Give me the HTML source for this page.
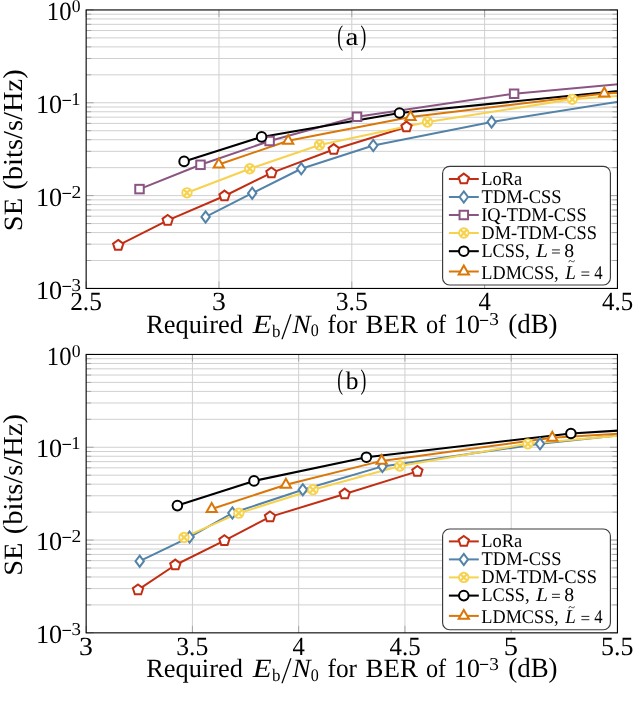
<!DOCTYPE html>
<html><head><meta charset="utf-8"><style>html,body{margin:0;padding:0;background:#fff;width:640px;height:714px;overflow:hidden}svg{display:block;will-change:transform}text{font-family:'Liberation Serif',serif;font-kerning:none;text-rendering:geometricPrecision;fill:#000}</style></head>
<body><svg width="640" height="714" viewBox="0 0 640 714">
<rect width="640" height="714" fill="#fff"/>
<defs><clipPath id="clip0"><rect x="86.15" y="9.95" width="531.3" height="278.5"/></clipPath></defs>
<path d="M86.15 260.5H617.45M86.15 244.16H617.45M86.15 232.56H617.45M86.15 223.56H617.45M86.15 216.21H617.45M86.15 210H617.45M86.15 204.61H617.45M86.15 199.86H617.45M86.15 195.62H617.45M86.15 167.67H617.45M86.15 151.32H617.45M86.15 139.73H617.45M86.15 130.73H617.45M86.15 123.38H617.45M86.15 117.16H617.45M86.15 111.78H617.45M86.15 107.03H617.45M86.15 102.78H617.45M86.15 74.84H617.45M86.15 58.49H617.45M86.15 46.89H617.45M86.15 37.9H617.45M86.15 30.54H617.45M86.15 24.33H617.45M86.15 18.95H617.45M86.15 14.2H617.45M218.98 9.95V288.45M351.8 9.95V288.45M484.62 9.95V288.45" stroke="#d0d0d0" stroke-width="1" fill="none"/>
<path d="M86.15 288.45h7.5M617.45 288.45h-7.5M86.15 260.5h5M617.45 260.5h-5M86.15 244.16h5M617.45 244.16h-5M86.15 232.56h5M617.45 232.56h-5M86.15 223.56h5M617.45 223.56h-5M86.15 216.21h5M617.45 216.21h-5M86.15 210h5M617.45 210h-5M86.15 204.61h5M617.45 204.61h-5M86.15 199.86h5M617.45 199.86h-5M86.15 195.62h7.5M617.45 195.62h-7.5M86.15 167.67h5M617.45 167.67h-5M86.15 151.32h5M617.45 151.32h-5M86.15 139.73h5M617.45 139.73h-5M86.15 130.73h5M617.45 130.73h-5M86.15 123.38h5M617.45 123.38h-5M86.15 117.16h5M617.45 117.16h-5M86.15 111.78h5M617.45 111.78h-5M86.15 107.03h5M617.45 107.03h-5M86.15 102.78h7.5M617.45 102.78h-7.5M86.15 74.84h5M617.45 74.84h-5M86.15 58.49h5M617.45 58.49h-5M86.15 46.89h5M617.45 46.89h-5M86.15 37.9h5M617.45 37.9h-5M86.15 30.54h5M617.45 30.54h-5M86.15 24.33h5M617.45 24.33h-5M86.15 18.95h5M617.45 18.95h-5M86.15 14.2h5M617.45 14.2h-5M86.15 9.95h7.5M617.45 9.95h-7.5M86.15 288.45v-7M86.15 9.95v7M218.98 288.45v-7M218.98 9.95v7M351.8 288.45v-7M351.8 9.95v7M484.62 288.45v-7M484.62 9.95v7M617.45 288.45v-7M617.45 9.95v7" stroke="#8a8a8a" stroke-width="0.65" fill="none"/>
<text transform="matrix(0.67 0 0 1.09 337.13 44.84)" font-size="26">(</text>
<text transform="matrix(1.12 0 0 0.97 345.62 44.5)" font-size="26">a</text>
<text transform="matrix(0.67 0 0 1.09 360.44 44.84)" font-size="26">)</text>
<g clip-path="url(#clip0)"><polyline points="118.2,245.3 167.7,220.4 224.5,196 271.4,172.9 333.75,149.5 406.5,127" fill="none" stroke="#c22e14" stroke-width="2.0" stroke-linejoin="round"/><polyline points="205.6,216.9 252.2,193.2 301.25,168.75 373.25,145.5 491.6,121.9 640,98.3" fill="none" stroke="#5383a8" stroke-width="2.0" stroke-linejoin="round"/><polyline points="139.5,189.1 200.5,164.8 269.6,141 357,116.75 514.1,93.75 640,82.3" fill="none" stroke="#8b5583" stroke-width="2.0" stroke-linejoin="round"/><polyline points="187,192.8 249.8,168.75 319.5,145 427.5,122 572.3,99.3 640,94.5" fill="none" stroke="#f6d24f" stroke-width="2.0" stroke-linejoin="round"/><polyline points="184.1,161.4 261.6,136.9 399.5,113 640,88.8" fill="none" stroke="#000000" stroke-width="2.05" stroke-linejoin="round"/><polyline points="218.8,164.5 288.2,140.8 410.5,117 604.3,93.5 640,91.8" fill="none" stroke="#da7708" stroke-width="2.0" stroke-linejoin="round"/><polygon points="118.2,239.9 123.34,243.63 121.37,249.67 115.03,249.67 113.06,243.63" fill="#fff" stroke="#c22e14" stroke-width="2.0"/><polygon points="167.7,215 172.84,218.73 170.87,224.77 164.53,224.77 162.56,218.73" fill="#fff" stroke="#c22e14" stroke-width="2.0"/><polygon points="224.5,190.6 229.64,194.33 227.67,200.37 221.33,200.37 219.36,194.33" fill="#fff" stroke="#c22e14" stroke-width="2.0"/><polygon points="271.4,167.5 276.54,171.23 274.57,177.27 268.23,177.27 266.26,171.23" fill="#fff" stroke="#c22e14" stroke-width="2.0"/><polygon points="333.75,144.1 338.89,147.83 336.92,153.87 330.58,153.87 328.61,147.83" fill="#fff" stroke="#c22e14" stroke-width="2.0"/><polygon points="406.5,121.6 411.64,125.33 409.67,131.37 403.33,131.37 401.36,125.33" fill="#fff" stroke="#c22e14" stroke-width="2.0"/><polygon points="205.6,211.3 209.8,216.9 205.6,222.5 201.4,216.9" fill="#fff" stroke="#5383a8" stroke-width="2.0"/><polygon points="252.2,187.6 256.4,193.2 252.2,198.8 248,193.2" fill="#fff" stroke="#5383a8" stroke-width="2.0"/><polygon points="301.25,163.15 305.45,168.75 301.25,174.35 297.05,168.75" fill="#fff" stroke="#5383a8" stroke-width="2.0"/><polygon points="373.25,139.9 377.45,145.5 373.25,151.1 369.05,145.5" fill="#fff" stroke="#5383a8" stroke-width="2.0"/><polygon points="491.6,116.3 495.8,121.9 491.6,127.5 487.4,121.9" fill="#fff" stroke="#5383a8" stroke-width="2.0"/><rect x="135.25" y="184.85" width="8.5" height="8.5" fill="#fff" stroke="#8b5583" stroke-width="2.0"/><rect x="196.25" y="160.55" width="8.5" height="8.5" fill="#fff" stroke="#8b5583" stroke-width="2.0"/><rect x="265.35" y="136.75" width="8.5" height="8.5" fill="#fff" stroke="#8b5583" stroke-width="2.0"/><rect x="352.75" y="112.5" width="8.5" height="8.5" fill="#fff" stroke="#8b5583" stroke-width="2.0"/><rect x="509.85" y="89.5" width="8.5" height="8.5" fill="#fff" stroke="#8b5583" stroke-width="2.0"/><circle cx="187" cy="192.8" r="4.7" fill="#fff" stroke="#f6d24f" stroke-width="1.9"/><path d="M183.68 189.48L190.32 196.12M183.68 196.12L190.32 189.48" stroke="#f6d24f" stroke-width="2.3"/><circle cx="249.8" cy="168.75" r="4.7" fill="#fff" stroke="#f6d24f" stroke-width="1.9"/><path d="M246.48 165.43L253.12 172.07M246.48 172.07L253.12 165.43" stroke="#f6d24f" stroke-width="2.3"/><circle cx="319.5" cy="145" r="4.7" fill="#fff" stroke="#f6d24f" stroke-width="1.9"/><path d="M316.18 141.68L322.82 148.32M316.18 148.32L322.82 141.68" stroke="#f6d24f" stroke-width="2.3"/><circle cx="427.5" cy="122" r="4.7" fill="#fff" stroke="#f6d24f" stroke-width="1.9"/><path d="M424.18 118.68L430.82 125.32M424.18 125.32L430.82 118.68" stroke="#f6d24f" stroke-width="2.3"/><circle cx="572.3" cy="99.3" r="4.7" fill="#fff" stroke="#f6d24f" stroke-width="1.9"/><path d="M568.98 95.98L575.62 102.62M568.98 102.62L575.62 95.98" stroke="#f6d24f" stroke-width="2.3"/><circle cx="184.1" cy="161.4" r="4.8" fill="#fff" stroke="#000000" stroke-width="2.0"/><circle cx="261.6" cy="136.9" r="4.8" fill="#fff" stroke="#000000" stroke-width="2.0"/><circle cx="399.5" cy="113" r="4.8" fill="#fff" stroke="#000000" stroke-width="2.0"/><polygon points="218.8,158.6 223.91,167.45 213.69,167.45" fill="#fff" stroke="#da7708" stroke-width="2.0"/><polygon points="288.2,134.9 293.31,143.75 283.09,143.75" fill="#fff" stroke="#da7708" stroke-width="2.0"/><polygon points="410.5,111.1 415.61,119.95 405.39,119.95" fill="#fff" stroke="#da7708" stroke-width="2.0"/><polygon points="604.3,87.6 609.41,96.45 599.19,96.45" fill="#fff" stroke="#da7708" stroke-width="2.0"/></g>
<rect x="86.15" y="9.95" width="531.3" height="278.5" fill="none" stroke="#000000" stroke-width="1.1"/>
<text transform="matrix(0.94 0 0 1 46.83 20.1)" font-size="26.2">10</text>
<text transform="matrix(0.97 0 0 1 71.73 12.05)" font-size="18.2">0</text>
<text transform="matrix(1 0 0 1 35.91 112.93)" font-size="26.2">10</text>
<text transform="matrix(1.02 0 0 1.25 61.38 107.83)" font-size="18.2">−</text>
<text transform="matrix(1.01 0 0 1 71.18 104.98)" font-size="18.2">1</text>
<text transform="matrix(1 0 0 1 35.91 205.77)" font-size="26.2">10</text>
<text transform="matrix(1.02 0 0 1.25 61.38 200.67)" font-size="18.2">−</text>
<text transform="matrix(1.07 0 0 1 71.44 197.82)" font-size="18.2">2</text>
<text transform="matrix(1 0 0 1 35.91 298.6)" font-size="26.2">10</text>
<text transform="matrix(1.02 0 0 1.25 61.38 293.5)" font-size="18.2">−</text>
<text transform="matrix(1.04 0 0 1 71.4 290.65)" font-size="18.2">3</text>
<text transform="matrix(0.97 0 0 1 70.13 310.4)" font-size="26.2">2.5</text>
<text transform="matrix(1.06 0 0 1 211.89 310.4)" font-size="26.2">3</text>
<text transform="matrix(0.98 0 0 1 335.67 310.4)" font-size="26.2">3.5</text>
<text transform="matrix(0.94 0 0 1 478.39 310.4)" font-size="26.2">4</text>
<text transform="matrix(0.95 0 0 1 602.06 310.4)" font-size="26.2">4.5</text>
<text transform="matrix(1 0 0 1 146.14 332.5)" font-size="26.4">Required</text>
<text transform="matrix(1.17 0 0 1 252.86 332.5)" font-size="26.4" font-style="italic">E</text>
<text transform="matrix(0.95 0 0 1 272 336.5)" font-size="17.8">b</text>
<text transform="matrix(0.97 0 0 1.42 282.57 338.54)" font-size="26.4" font-style="italic">/</text>
<text transform="matrix(1.03 0 0 1 292.5 332.5)" font-size="26.4" font-style="italic">N</text>
<text transform="matrix(0.91 0 0 1 310.69 336.4)" font-size="17.6">0</text>
<text transform="matrix(0.96 0 0 1 327.52 332.5)" font-size="26.4">for</text>
<text transform="matrix(1.02 0 0 1 365.62 332.5)" font-size="26.4">BER</text>
<text transform="matrix(0.92 0 0 1 425.97 332.5)" font-size="26.4">of</text>
<text transform="matrix(0.98 0 0 1 453.99 332.5)" font-size="26.4">10</text>
<text transform="matrix(0.98 0 0 1.25 479.01 327.65)" font-size="18.2">−</text>
<text transform="matrix(1.06 0 0 1 489.17 325.22)" font-size="18.2">3</text>
<text transform="matrix(1.02 0 0 1.05 508.22 332.5)" font-size="26.4">(dB)</text>
<text transform="matrix(0 -1.08 1 0 22 231.2)" font-size="26.4">SE</text>
<text transform="matrix(0 -1.08 1.04 0 22 189.66)" font-size="26.4">(bits/s/Hz)</text>
<defs><clipPath id="clip1"><rect x="86.15" y="354.45" width="531.3" height="278.4"/></clipPath></defs>
<path d="M86.15 604.91H617.45M86.15 588.57H617.45M86.15 576.98H617.45M86.15 567.99H617.45M86.15 560.64H617.45M86.15 554.42H617.45M86.15 549.04H617.45M86.15 544.3H617.45M86.15 540.05H617.45M86.15 512.11H617.45M86.15 495.77H617.45M86.15 484.18H617.45M86.15 475.19H617.45M86.15 467.84H617.45M86.15 461.62H617.45M86.15 456.24H617.45M86.15 451.5H617.45M86.15 447.25H617.45M86.15 419.31H617.45M86.15 402.97H617.45M86.15 391.38H617.45M86.15 382.39H617.45M86.15 375.04H617.45M86.15 368.82H617.45M86.15 363.44H617.45M86.15 358.7H617.45M192.41 354.45V632.85M298.67 354.45V632.85M404.93 354.45V632.85M511.19 354.45V632.85" stroke="#d0d0d0" stroke-width="1" fill="none"/>
<path d="M86.15 632.85h7.5M617.45 632.85h-7.5M86.15 604.91h5M617.45 604.91h-5M86.15 588.57h5M617.45 588.57h-5M86.15 576.98h5M617.45 576.98h-5M86.15 567.99h5M617.45 567.99h-5M86.15 560.64h5M617.45 560.64h-5M86.15 554.42h5M617.45 554.42h-5M86.15 549.04h5M617.45 549.04h-5M86.15 544.3h5M617.45 544.3h-5M86.15 540.05h7.5M617.45 540.05h-7.5M86.15 512.11h5M617.45 512.11h-5M86.15 495.77h5M617.45 495.77h-5M86.15 484.18h5M617.45 484.18h-5M86.15 475.19h5M617.45 475.19h-5M86.15 467.84h5M617.45 467.84h-5M86.15 461.62h5M617.45 461.62h-5M86.15 456.24h5M617.45 456.24h-5M86.15 451.5h5M617.45 451.5h-5M86.15 447.25h7.5M617.45 447.25h-7.5M86.15 419.31h5M617.45 419.31h-5M86.15 402.97h5M617.45 402.97h-5M86.15 391.38h5M617.45 391.38h-5M86.15 382.39h5M617.45 382.39h-5M86.15 375.04h5M617.45 375.04h-5M86.15 368.82h5M617.45 368.82h-5M86.15 363.44h5M617.45 363.44h-5M86.15 358.7h5M617.45 358.7h-5M86.15 354.45h7.5M617.45 354.45h-7.5M86.15 632.85v-7M86.15 354.45v7M192.41 632.85v-7M192.41 354.45v7M298.67 632.85v-7M298.67 354.45v7M404.93 632.85v-7M404.93 354.45v7M511.19 632.85v-7M511.19 354.45v7M617.45 632.85v-7M617.45 354.45v7" stroke="#8a8a8a" stroke-width="0.65" fill="none"/>
<text transform="matrix(0.67 0 0 1.09 337.13 389.44)" font-size="26">(</text>
<text transform="matrix(0.98 0 0 0.97 345.8 388.65)" font-size="26">b</text>
<text transform="matrix(0.67 0 0 1.09 360.44 389.44)" font-size="26">)</text>
<g clip-path="url(#clip1)"><polyline points="138,589.9 175.3,565 224.4,540.6 270,516.9 344.7,494 417.4,471.4" fill="none" stroke="#c22e14" stroke-width="2.0" stroke-linejoin="round"/><polyline points="139.7,561.2 189.6,537.1 232.4,513 302.8,489.7 382.4,466.4 540,443.8 640,433.2" fill="none" stroke="#5383a8" stroke-width="2.0" stroke-linejoin="round"/><polyline points="184,537.4 238.8,513.2 313,489.7 399.9,466 527.9,443.8 640,433.8" fill="none" stroke="#f6d24f" stroke-width="2.0" stroke-linejoin="round"/><polyline points="177.4,505.6 254,480.9 366.4,457.2 570.9,433.5 640,429.3" fill="none" stroke="#000000" stroke-width="2.05" stroke-linejoin="round"/><polyline points="211.7,509 285.9,484.7 381.7,460.9 552.3,437.7 640,432.5" fill="none" stroke="#da7708" stroke-width="2.0" stroke-linejoin="round"/><polygon points="138,584.5 143.14,588.23 141.17,594.27 134.83,594.27 132.86,588.23" fill="#fff" stroke="#c22e14" stroke-width="2.0"/><polygon points="175.3,559.6 180.44,563.33 178.47,569.37 172.13,569.37 170.16,563.33" fill="#fff" stroke="#c22e14" stroke-width="2.0"/><polygon points="224.4,535.2 229.54,538.93 227.57,544.97 221.23,544.97 219.26,538.93" fill="#fff" stroke="#c22e14" stroke-width="2.0"/><polygon points="270,511.5 275.14,515.23 273.17,521.27 266.83,521.27 264.86,515.23" fill="#fff" stroke="#c22e14" stroke-width="2.0"/><polygon points="344.7,488.6 349.84,492.33 347.87,498.37 341.53,498.37 339.56,492.33" fill="#fff" stroke="#c22e14" stroke-width="2.0"/><polygon points="417.4,466 422.54,469.73 420.57,475.77 414.23,475.77 412.26,469.73" fill="#fff" stroke="#c22e14" stroke-width="2.0"/><polygon points="139.7,555.6 143.9,561.2 139.7,566.8 135.5,561.2" fill="#fff" stroke="#5383a8" stroke-width="2.0"/><polygon points="189.6,531.5 193.8,537.1 189.6,542.7 185.4,537.1" fill="#fff" stroke="#5383a8" stroke-width="2.0"/><polygon points="232.4,507.4 236.6,513 232.4,518.6 228.2,513" fill="#fff" stroke="#5383a8" stroke-width="2.0"/><polygon points="302.8,484.1 307,489.7 302.8,495.3 298.6,489.7" fill="#fff" stroke="#5383a8" stroke-width="2.0"/><polygon points="382.4,460.8 386.6,466.4 382.4,472 378.2,466.4" fill="#fff" stroke="#5383a8" stroke-width="2.0"/><polygon points="540,438.2 544.2,443.8 540,449.4 535.8,443.8" fill="#fff" stroke="#5383a8" stroke-width="2.0"/><circle cx="184" cy="537.4" r="4.7" fill="#fff" stroke="#f6d24f" stroke-width="1.9"/><path d="M180.68 534.08L187.32 540.72M180.68 540.72L187.32 534.08" stroke="#f6d24f" stroke-width="2.3"/><circle cx="238.8" cy="513.2" r="4.7" fill="#fff" stroke="#f6d24f" stroke-width="1.9"/><path d="M235.48 509.88L242.12 516.52M235.48 516.52L242.12 509.88" stroke="#f6d24f" stroke-width="2.3"/><circle cx="313" cy="489.7" r="4.7" fill="#fff" stroke="#f6d24f" stroke-width="1.9"/><path d="M309.68 486.38L316.32 493.02M309.68 493.02L316.32 486.38" stroke="#f6d24f" stroke-width="2.3"/><circle cx="399.9" cy="466" r="4.7" fill="#fff" stroke="#f6d24f" stroke-width="1.9"/><path d="M396.58 462.68L403.22 469.32M396.58 469.32L403.22 462.68" stroke="#f6d24f" stroke-width="2.3"/><circle cx="527.9" cy="443.8" r="4.7" fill="#fff" stroke="#f6d24f" stroke-width="1.9"/><path d="M524.58 440.48L531.22 447.12M524.58 447.12L531.22 440.48" stroke="#f6d24f" stroke-width="2.3"/><circle cx="177.4" cy="505.6" r="4.8" fill="#fff" stroke="#000000" stroke-width="2.0"/><circle cx="254" cy="480.9" r="4.8" fill="#fff" stroke="#000000" stroke-width="2.0"/><circle cx="366.4" cy="457.2" r="4.8" fill="#fff" stroke="#000000" stroke-width="2.0"/><circle cx="570.9" cy="433.5" r="4.8" fill="#fff" stroke="#000000" stroke-width="2.0"/><polygon points="211.7,503.1 216.81,511.95 206.59,511.95" fill="#fff" stroke="#da7708" stroke-width="2.0"/><polygon points="285.9,478.8 291.01,487.65 280.79,487.65" fill="#fff" stroke="#da7708" stroke-width="2.0"/><polygon points="381.7,455 386.81,463.85 376.59,463.85" fill="#fff" stroke="#da7708" stroke-width="2.0"/><polygon points="552.3,431.8 557.41,440.65 547.19,440.65" fill="#fff" stroke="#da7708" stroke-width="2.0"/></g>
<rect x="86.15" y="354.45" width="531.3" height="278.4" fill="none" stroke="#000000" stroke-width="1.1"/>
<text transform="matrix(0.94 0 0 1 46.83 364.6)" font-size="26.2">10</text>
<text transform="matrix(0.97 0 0 1 71.73 356.55)" font-size="18.2">0</text>
<text transform="matrix(1 0 0 1 35.91 457.4)" font-size="26.2">10</text>
<text transform="matrix(1.02 0 0 1.25 61.38 452.3)" font-size="18.2">−</text>
<text transform="matrix(1.01 0 0 1 71.18 449.45)" font-size="18.2">1</text>
<text transform="matrix(1 0 0 1 35.91 550.2)" font-size="26.2">10</text>
<text transform="matrix(1.02 0 0 1.25 61.38 545.1)" font-size="18.2">−</text>
<text transform="matrix(1.07 0 0 1 71.44 542.25)" font-size="18.2">2</text>
<text transform="matrix(1 0 0 1 35.91 643)" font-size="26.2">10</text>
<text transform="matrix(1.02 0 0 1.25 61.38 637.9)" font-size="18.2">−</text>
<text transform="matrix(1.04 0 0 1 71.4 635.05)" font-size="18.2">3</text>
<text transform="matrix(1.06 0 0 1 79.07 655)" font-size="26.2">3</text>
<text transform="matrix(0.98 0 0 1 176.28 655)" font-size="26.2">3.5</text>
<text transform="matrix(0.94 0 0 1 292.44 655)" font-size="26.2">4</text>
<text transform="matrix(0.95 0 0 1 389.54 655)" font-size="26.2">4.5</text>
<text transform="matrix(1.09 0 0 1 503.78 655)" font-size="26.2">5</text>
<text transform="matrix(0.99 0 0 1 601.05 655)" font-size="26.2">5.5</text>
<text transform="matrix(1 0 0 1 146.14 677.1)" font-size="26.4">Required</text>
<text transform="matrix(1.17 0 0 1 252.86 677.1)" font-size="26.4" font-style="italic">E</text>
<text transform="matrix(0.95 0 0 1 272 681.1)" font-size="17.8">b</text>
<text transform="matrix(0.97 0 0 1.42 282.57 683.14)" font-size="26.4" font-style="italic">/</text>
<text transform="matrix(1.03 0 0 1 292.5 677.1)" font-size="26.4" font-style="italic">N</text>
<text transform="matrix(0.91 0 0 1 310.69 681)" font-size="17.6">0</text>
<text transform="matrix(0.96 0 0 1 327.52 677.1)" font-size="26.4">for</text>
<text transform="matrix(1.02 0 0 1 365.62 677.1)" font-size="26.4">BER</text>
<text transform="matrix(0.92 0 0 1 425.97 677.1)" font-size="26.4">of</text>
<text transform="matrix(0.98 0 0 1 453.99 677.1)" font-size="26.4">10</text>
<text transform="matrix(0.98 0 0 1.25 479.01 672.25)" font-size="18.2">−</text>
<text transform="matrix(1.06 0 0 1 489.17 669.82)" font-size="18.2">3</text>
<text transform="matrix(1.02 0 0 1.05 508.22 677.1)" font-size="26.4">(dB)</text>
<text transform="matrix(0 -1.08 1 0 22 575.8)" font-size="26.4">SE</text>
<text transform="matrix(0 -1.08 1.04 0 22 534.26)" font-size="26.4">(bits/s/Hz)</text>
<rect x="442.6" y="166.3" width="167.8" height="118.7" rx="7" ry="7" fill="#fff" stroke="#3a3a3a" stroke-width="1.15"/><path d="M448.9 179H478.8" stroke="#c22e14" stroke-width="2.0"/><polygon points="463.8,173.6 468.94,177.33 466.97,183.37 460.63,183.37 458.66,177.33" fill="#fff" stroke="#c22e14" stroke-width="2.0"/><text transform="matrix(0.95 0 0 1 481.37 184.8)" font-size="19.4">LoRa</text><path d="M448.9 197H478.8" stroke="#5383a8" stroke-width="2.0"/><polygon points="463.8,191.4 468,197 463.8,202.6 459.6,197" fill="#fff" stroke="#5383a8" stroke-width="2.0"/><text transform="matrix(0.95 0 0 1 481.57 202.7)" font-size="19.4">TDM-CSS</text><path d="M448.9 215H478.8" stroke="#8b5583" stroke-width="2.0"/><rect x="459.55" y="210.75" width="8.5" height="8.5" fill="#fff" stroke="#8b5583" stroke-width="2.0"/><text transform="matrix(0.95 0 0 1 481.23 220.5)" font-size="19.4">IQ-TDM-CSS</text><path d="M448.9 233H478.8" stroke="#f6d24f" stroke-width="2.0"/><circle cx="463.8" cy="233" r="4.7" fill="#fff" stroke="#f6d24f" stroke-width="1.9"/><path d="M460.48 229.68L467.12 236.32M460.48 236.32L467.12 229.68" stroke="#f6d24f" stroke-width="2.3"/><text transform="matrix(0.95 0 0 1 481.37 238.8)" font-size="19.4">DM-TDM-CSS</text><path d="M448.9 251.2H478.8" stroke="#000000" stroke-width="2.05"/><circle cx="463.8" cy="251.2" r="4.8" fill="#fff" stroke="#000000" stroke-width="2.0"/><text transform="matrix(0.94 0 0 1 481.38 257)" font-size="19.4">LCSS</text><text transform="matrix(0.97 0 0 1 525.08 257)" font-size="19.4">,</text><text transform="matrix(1.11 0 0 1 535.95 257)" font-size="19.4" font-style="italic">L</text><path d="M552 249.9h7.9M552 253h7.9" stroke="#1a1a1a" stroke-width="0.95"/><text transform="matrix(1.02 0 0 1 564.25 257)" font-size="19.4">8</text><path d="M448.9 271.5H478.8" stroke="#da7708" stroke-width="2.0"/><polygon points="463.8,265.6 468.91,274.45 458.69,274.45" fill="#fff" stroke="#da7708" stroke-width="2.0"/><text transform="matrix(0.94 0 0 1 481.37 278.8)" font-size="19.4">LDMCSS</text><text transform="matrix(0.97 0 0 1 553.98 278.8)" font-size="19.4">,</text><text transform="matrix(0.98 0 0 1 565.22 278.8)" font-size="19.4" font-style="italic">L</text><text transform="matrix(0.64 0 0 0.58 568.26 265.07)" font-size="19.4">~</text><path d="M581.4 272h7.9M581.4 275.3h7.9" stroke="#1a1a1a" stroke-width="0.95"/><text transform="matrix(0.86 0 0 1 594.17 278.8)" font-size="19.4">4</text>
<rect x="442.6" y="529" width="167.8" height="100.7" rx="7" ry="7" fill="#fff" stroke="#3a3a3a" stroke-width="1.15"/><path d="M448.9 541.4H478.8" stroke="#c22e14" stroke-width="2.0"/><polygon points="463.8,536 468.94,539.73 466.97,545.77 460.63,545.77 458.66,539.73" fill="#fff" stroke="#c22e14" stroke-width="2.0"/><text transform="matrix(0.95 0 0 1 481.37 547.1)" font-size="19.4">LoRa</text><path d="M448.9 559.4H478.8" stroke="#5383a8" stroke-width="2.0"/><polygon points="463.8,553.8 468,559.4 463.8,565 459.6,559.4" fill="#fff" stroke="#5383a8" stroke-width="2.0"/><text transform="matrix(0.95 0 0 1 481.57 564.9)" font-size="19.4">TDM-CSS</text><path d="M448.9 577.4H478.8" stroke="#f6d24f" stroke-width="2.0"/><circle cx="463.8" cy="577.4" r="4.7" fill="#fff" stroke="#f6d24f" stroke-width="1.9"/><path d="M460.48 574.08L467.12 580.72M460.48 580.72L467.12 574.08" stroke="#f6d24f" stroke-width="2.3"/><text transform="matrix(0.95 0 0 1 481.37 583.2)" font-size="19.4">DM-TDM-CSS</text><path d="M448.9 595.6H478.8" stroke="#000000" stroke-width="2.05"/><circle cx="463.8" cy="595.6" r="4.8" fill="#fff" stroke="#000000" stroke-width="2.0"/><text transform="matrix(0.94 0 0 1 481.38 601.4)" font-size="19.4">LCSS</text><text transform="matrix(0.97 0 0 1 525.08 601.4)" font-size="19.4">,</text><text transform="matrix(1.11 0 0 1 535.95 601.4)" font-size="19.4" font-style="italic">L</text><path d="M552 594.3h7.9M552 597.4h7.9" stroke="#1a1a1a" stroke-width="0.95"/><text transform="matrix(1.02 0 0 1 564.25 601.4)" font-size="19.4">8</text><path d="M448.9 615.9H478.8" stroke="#da7708" stroke-width="2.0"/><polygon points="463.8,610 468.91,618.85 458.69,618.85" fill="#fff" stroke="#da7708" stroke-width="2.0"/><text transform="matrix(0.94 0 0 1 481.37 623.2)" font-size="19.4">LDMCSS</text><text transform="matrix(0.97 0 0 1 553.98 623.2)" font-size="19.4">,</text><text transform="matrix(0.98 0 0 1 565.22 623.2)" font-size="19.4" font-style="italic">L</text><text transform="matrix(0.64 0 0 0.58 568.26 610.77)" font-size="19.4">~</text><path d="M581.4 616.4h7.9M581.4 619.7h7.9" stroke="#1a1a1a" stroke-width="0.95"/><text transform="matrix(0.86 0 0 1 594.17 623.2)" font-size="19.4">4</text>
</svg></body></html>
